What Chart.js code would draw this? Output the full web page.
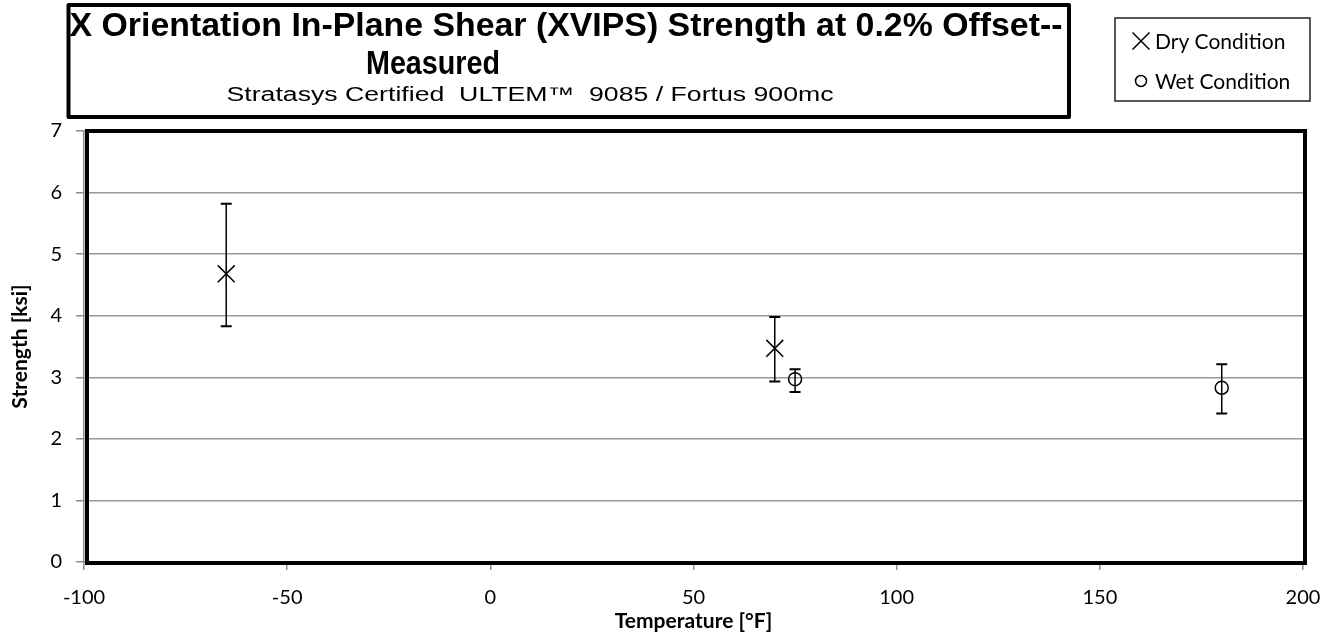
<!DOCTYPE html>
<html>
<head>
<meta charset="utf-8">
<script src="https://cdn.jsdelivr.net/npm/chart.js@4"></script>
<style>
  body { margin: 0; background: #fff; }
</style>
</head>
<body>
<canvas id="myChart" width="1343" height="637"></canvas>
<script>
// values
const dryTemps = [-65, 70];
const dryStrength = [4.68, 3.47];
const dryLow = [3.83, 2.93];
const dryHigh = [5.82, 3.98];

const wetTemps = [75, 180];
const wetStrength = [2.97, 2.83];
const wetLow = [2.76, 2.41];
const wetHigh = [3.13, 3.21];

const xTicks = [-100, -50, 0, 50, 100, 150, 200];
const yTicks = [0, 1, 2, 3, 4, 5, 6, 7];

const titleLines = ['X Orientation In-Plane Shear (XVIPS) Strength at 0.2% Offset--', 'Measured'];
const subTitle = 'Stratasys Certified  ULTEM\u2122  9085 / Fortus 900mc';

const toPoints = (xs, ys, lo, hi) => xs.map((t, i) => ({ x: t, y: ys[i], yMin: lo[i], yMax: hi[i] }));

// draws text squeezed/stretched to a given width
function fitText(ctx, text, cx, baseline, width, font) {
  ctx.save();
  ctx.font = font;
  const w = ctx.measureText(text).width;
  ctx.translate(cx, baseline);
  ctx.scale(width / w, 1);
  ctx.textAlign = 'center';
  ctx.textBaseline = 'alphabetic';
  ctx.fillText(text, 0, 0);
  ctx.restore();
}

const errorBars = {
  id: 'errorBars',
  beforeDatasetsDraw(chart) {
    const { ctx, scales: { x, y } } = chart;
    ctx.save();
    ctx.strokeStyle = '#000';
    chart.data.datasets.forEach(ds => {
      ds.data.forEach(p => {
        const px = x.getPixelForValue(p.x);
        const top = y.getPixelForValue(p.yMax);
        const bot = y.getPixelForValue(p.yMin);
        ctx.lineWidth = 1.5;
        ctx.beginPath();
        ctx.moveTo(px, top);
        ctx.lineTo(px, bot);
        ctx.stroke();
        ctx.lineWidth = 2;
        ctx.beginPath();
        ctx.moveTo(px - 5.5, top); ctx.lineTo(px + 5.5, top);
        ctx.moveTo(px - 5.5, bot); ctx.lineTo(px + 5.5, bot);
        ctx.stroke();
      });
    });
    ctx.restore();
  }
};

const frame = {
  id: 'frame',
  afterDraw(chart) {
    const { ctx, chartArea: a } = chart;
    ctx.save();
    // plot border
    ctx.strokeStyle = '#000';
    ctx.lineWidth = 4;
    ctx.strokeRect(a.left + 3, a.top, a.right - a.left - 1, a.bottom - a.top + 1);

    // title box
    ctx.lineWidth = 4;
    ctx.lineJoin = 'round';
    ctx.strokeRect(68.5, 5, 1000.5, 112);
    ctx.fillStyle = '#000';
    fitText(ctx, titleLines[0], 566, 36, 993, 'bold 33px "Liberation Sans", Arial, sans-serif');
    fitText(ctx, titleLines[1], 433, 74, 134, 'bold 33px "Liberation Sans", Arial, sans-serif');
    fitText(ctx, subTitle, 530, 101, 607, '20px "Liberation Sans", Arial, sans-serif');

    // legend box
    ctx.lineWidth = 1.5;
    ctx.lineJoin = 'miter';
    ctx.strokeStyle = '#222';
    ctx.strokeRect(1115, 18, 195, 83);
    ctx.font = '21px Lato, sans-serif';
    ctx.textAlign = 'left';
    ctx.textBaseline = 'middle';
    const rows = [41, 81];
    chart.data.datasets.forEach((ds, i) => {
      ctx.strokeStyle = '#000';
      ctx.fillStyle = 'rgba(0,0,0,0)';
      ctx.lineWidth = 1.5;
      Chart.helpers.drawPoint(ctx, {
        pointStyle: ds.pointStyle,
        radius: ds.pointStyle === 'circle' ? 5.5 : 12,
        rotation: 0,
        borderWidth: 1.5
      }, 1141, rows[i]);
      ctx.fillStyle = '#000';
      ctx.fillText(ds.label, 1155, rows[i] + 1);
    });
    ctx.restore();
  }
};

new Chart(document.getElementById('myChart'), {
  type: 'scatter',
  data: {
    datasets: [
      {
        label: 'Dry Condition',
        data: toPoints(dryTemps, dryStrength, dryLow, dryHigh),
        pointStyle: 'crossRot',
        pointRadius: 12,
        pointHoverRadius: 12,
        borderColor: '#000',
        backgroundColor: '#000',
        borderWidth: 1.5
      },
      {
        label: 'Wet Condition',
        data: toPoints(wetTemps, wetStrength, wetLow, wetHigh),
        pointStyle: 'circle',
        pointRadius: 6.5,
        pointHoverRadius: 6.5,
        borderColor: '#000',
        backgroundColor: 'rgba(0,0,0,0)',
        borderWidth: 1.5
      }
    ]
  },
  options: {
    responsive: false,
    animation: false,
    events: [],
    layout: { padding: { left: 0, top: 131, right: 40, bottom: 0 } },
    plugins: {
      legend: { display: false },
      title: { display: false },
      tooltip: { enabled: false }
    },
    scales: {
      x: {
        type: 'linear',
        min: xTicks[0],
        max: xTicks[xTicks.length - 1],
        afterBuildTicks: s => { s.ticks = xTicks.map(v => ({ value: v })); },
        afterFit: s => { s.height = 75; },
        grid: { drawOnChartArea: false, drawTicks: true, tickLength: 8, tickColor: '#8c8c8c', lineWidth: 1.5 },
        border: { display: true, color: '#8c8c8c', width: 1.5 },
        ticks: { color: '#000', font: { family: 'Lato', size: 20 }, padding: 16, maxRotation: 0 },
        title: {
          display: true,
          text: 'Temperature [\u00b0F]',
          color: '#000',
          font: { family: 'Lato', size: 21, weight: 'bold' },
          padding: { top: 0, bottom: 3 }
        }
      },
      y: {
        type: 'linear',
        min: yTicks[0],
        max: yTicks[yTicks.length - 1],
        afterBuildTicks: s => { s.ticks = yTicks.map(v => ({ value: v })); },
        afterFit: s => { s.width = 84; },
        grid: { color: '#9a9a9a', lineWidth: 1.5, drawTicks: true, tickLength: 8, tickColor: '#8c8c8c' },
        border: { display: true, color: '#8c8c8c', width: 1.5 },
        ticks: { color: '#000', font: { family: 'Lato', size: 20 }, padding: 14 },
        title: {
          display: true,
          text: 'Strength [ksi]',
          color: '#000',
          font: { family: 'Lato', size: 21, weight: 'bold' },
          padding: { top: 8, bottom: 0 }
        }
      }
    }
  },
  plugins: [errorBars, frame]
});
</script>
</body>
</html>
